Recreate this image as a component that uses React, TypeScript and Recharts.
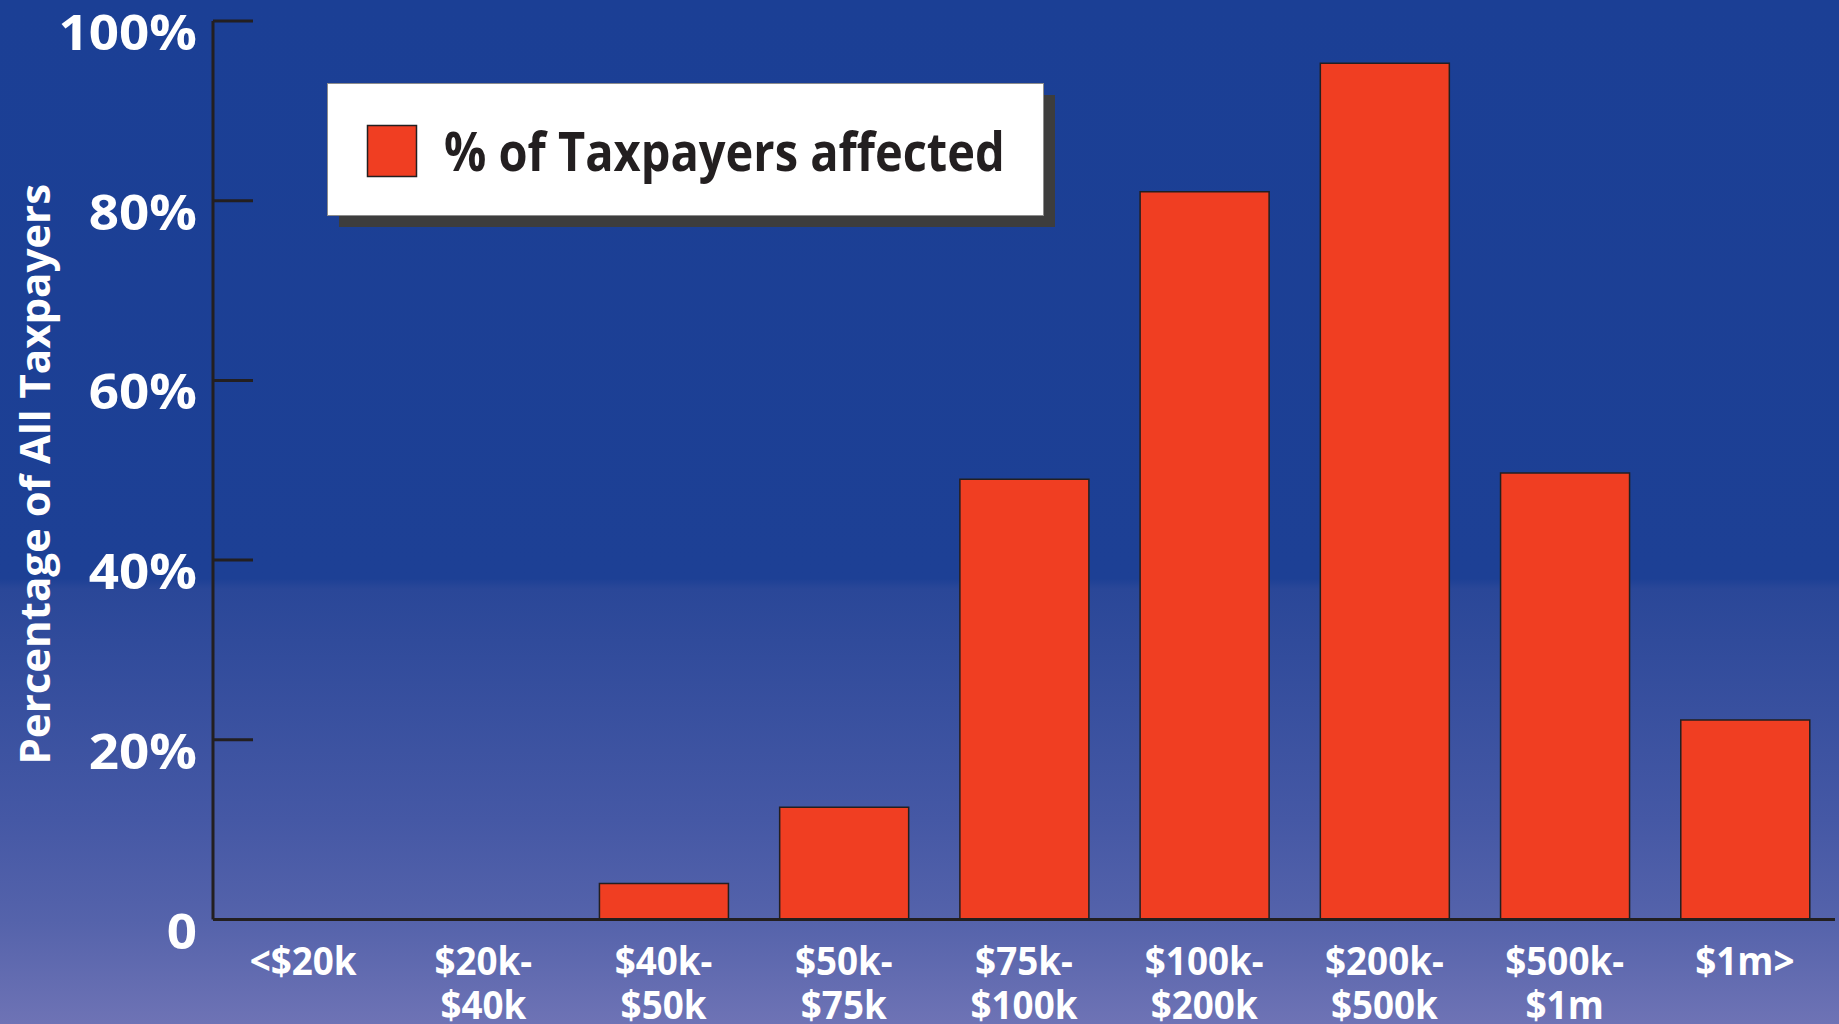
import { BarChart, Bar, XAxis, YAxis, Legend } from 'recharts';

const incomeBrackets = ['<$20k', '$20k-$40k', '$40k-$50k', '$50k-$75k', '$75k-$100k', '$100k-$200k', '$200k-$500k', '$500k-$1m', '$1m>'];
const pctAffected = [0, 0, 4, 12.5, 49, 81, 95.3, 49.7, 22.2];
const yTicks = [0, 20, 40, 60, 80, 100];

const data = incomeBrackets.map((bracket, i) => ({ bracket, pct: pctAffected[i] }));

const FONT = "'Open Sans', 'DejaVu Sans', sans-serif";
const INK = '#231F20';
const BAR_RED = '#F03E22';

const YTick = (props: any) => {
  const { x, y, payload } = props;
  const label = payload.value === 0 ? '0' : `${payload.value}%`;
  return (
    <g>
      <line x1={x} x2={x + 40} y1={y} y2={y} stroke={INK} strokeWidth={3} />
      <g transform={`translate(${x - 16},${y + 29}) scale(1.08,1)`}>
        <text x={0} y={0} textAnchor="end" fill="#fff" fontFamily={FONT} fontWeight={700} fontSize={49}>
          {label}
        </text>
      </g>
    </g>
  );
};

const XTick = (props: any) => {
  const { x, y, payload } = props;
  const s: string = payload.value;
  const cut = s.indexOf('-');
  const lines = cut > 0 ? [s.slice(0, cut + 1), s.slice(cut + 1)] : [s];
  return (
    <g transform={`translate(${x},${y})`}>
      <g transform="scale(0.92,1)">
        {lines.map((ln, i) => (
          <text key={i} x={0} y={56 + i * 44} textAnchor="middle" fill="#fff" fontFamily={FONT} fontWeight={700} fontSize={40}>
            {ln}
          </text>
        ))}
      </g>
    </g>
  );
};

const YLabel = (props: any) => {
  const { viewBox } = props;
  const cy = viewBox.y + viewBox.height / 2 + 4;
  const bx = 50;
  return (
    <text
      x={bx}
      y={cy}
      transform={`rotate(-90, ${bx}, ${cy})`}
      textAnchor="middle"
      fill="#fff"
      fontFamily={FONT}
      fontWeight={700}
      fontSize={42}
    >
      Percentage of All Taxpayers
    </text>
  );
};

const LegendBox = (props: any) => {
  const { payload } = props;
  return (
    <svg width={730} height={145} style={{ display: 'block' }}>
      <rect x={12} y={12} width={716} height={132} fill="#3D3D3D" />
      <rect x={0.5} y={0.5} width={716} height={132} fill="#fff" stroke="#8C8C8C" strokeWidth={1} />
      {(payload || []).map((entry: any, i: number) => (
        <g key={i}>
          <rect x={40.5} y={42.5} width={49} height={51} fill={entry.color} stroke={INK} strokeWidth={1.5} />
          <g transform="translate(117,88) scale(0.87,1)">
            <text x={0} y={0} fill={INK} fontFamily={FONT} fontWeight={700} fontSize={54}>
              {entry.value}
            </text>
          </g>
        </g>
      ))}
    </svg>
  );
};

export default function App() {
  return (
    <div
      style={{
        width: 1839,
        height: 1024,
        overflow: 'hidden',
        position: 'relative',
        background:
          'linear-gradient(to bottom, #1B3F95 0%, #1D4095 56.5%, #2A4798 57.5%, #4558A5 80%, #5563AB 90%, #6E73B5 100%)',
      }}
    >
      <style>{'body{margin:0}'}</style>
      <BarChart width={1839} height={1024} data={data} margin={{ top: 21, right: 4, left: 0, bottom: 0 }}>
        <XAxis
          dataKey="bracket"
          height={104.5}
          axisLine={{ stroke: INK, strokeWidth: 3 }}
          tickLine={false}
          tickSize={0}
          tickMargin={0}
          interval={0}
          tick={<XTick />}
        />
        <YAxis
          width={213}
          domain={[0, 100]}
          ticks={yTicks}
          interval={0}
          axisLine={{ stroke: INK, strokeWidth: 3 }}
          tickLine={false}
          tickSize={0}
          tickMargin={0}
          tick={<YTick />}
          label={<YLabel />}
        />
        <Legend
          layout="vertical"
          align="center"
          verticalAlign="middle"
          content={<LegendBox />}
          wrapperStyle={{ position: 'absolute', left: 327, top: 83, width: 730, height: 145 }}
        />
        <Bar
          dataKey="pct"
          name="% of Taxpayers affected"
          fill={BAR_RED}
          stroke={INK}
          strokeWidth={1.5}
          barSize={129}
          isAnimationActive={false}
        />
      </BarChart>
    </div>
  );
}
